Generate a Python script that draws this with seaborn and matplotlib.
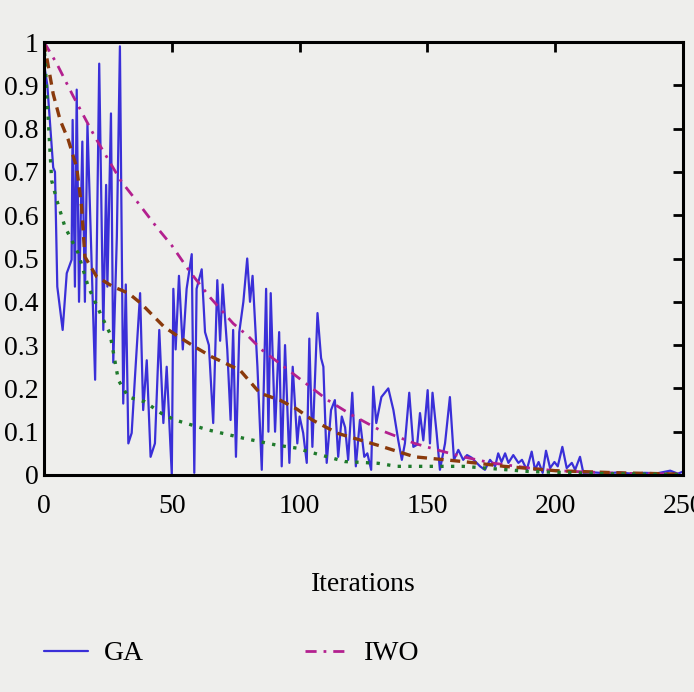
import numpy as np
import pandas as pd
import matplotlib
matplotlib.use("Agg")
import matplotlib.pyplot as plt
import seaborn as sns

# ---- data ----
ga_iter = [0, 1.3, 3.6, 4.3, 5.2, 7.3, 8.9, 10.8, 11.2, 12.1, 12.8, 13.7, 15, 16, 17, 20, 21.6,
           23.2, 24.3, 24.8, 26.2, 27.1, 28.5, 29.7, 31, 32, 33, 34.3, 35.6, 37.6, 38.8, 40.2,
           41.7, 43.4, 45.1, 46.7, 48, 50, 50.6, 51.5, 52.8, 54.3, 55.8, 57.8, 58.8, 59.7, 61.7,
           63, 64.5, 66.2, 67.8, 68.9, 69.9, 71.7, 73, 74, 75.1, 76.4, 78, 79.5, 80.6, 81.6,
           83.5, 85.2, 86.9, 87.8, 88.7, 90.4, 92, 93, 94.3, 96, 97.3, 99.1, 100, 101.4, 102.8,
           103.8, 105, 107, 108.4, 109.3, 110.6, 112.3, 113.8, 115.1, 116.5, 117.8, 119, 120.6,
           122, 123.6, 125.3, 126.5, 128, 128.8, 130, 132, 134.7, 136.7, 138.6, 140, 141.2,
           142.9, 144.5, 146, 147.1, 148.4, 150.1, 151, 152, 153.6, 154.9, 156.9, 158.8, 160.4,
           162.1, 164, 165.5, 167.3, 170.6, 172.5, 174.5, 176.5, 177.7, 179, 180.4, 181.7,
           183.6, 185.6, 187, 188.9, 190.8, 192.1, 193.5, 195.1, 196.4, 198, 199.7, 201, 202.8,
           204.5, 206.5, 207.8, 209.7, 211, 215, 220, 225, 230, 235, 240, 245, 248, 250]
ga_val = [0.95, 0.90, 0.71, 0.70, 0.435, 0.335, 0.466, 0.497, 0.82, 0.435, 0.89, 0.40, 0.77,
          0.40, 0.81, 0.22, 0.95, 0.335, 0.67, 0.435, 0.835, 0.26, 0.55, 0.99, 0.165, 0.44,
          0.073, 0.097, 0.227, 0.42, 0.15, 0.265, 0.042, 0.073, 0.335, 0.12, 0.25, 0.0, 0.43,
          0.29, 0.46, 0.29, 0.43, 0.51, 0.005, 0.43, 0.475, 0.33, 0.30, 0.12, 0.45, 0.31, 0.44,
          0.29, 0.127, 0.335, 0.042, 0.33, 0.40, 0.50, 0.40, 0.46, 0.25, 0.012, 0.43, 0.10,
          0.42, 0.10, 0.33, 0.02, 0.30, 0.028, 0.25, 0.073, 0.135, 0.097, 0.028, 0.315, 0.065,
          0.374, 0.27, 0.25, 0.028, 0.15, 0.173, 0.042, 0.135, 0.11, 0.035, 0.19, 0.02, 0.127,
          0.042, 0.05, 0.012, 0.204, 0.12, 0.18, 0.20, 0.15, 0.08, 0.035, 0.073, 0.19, 0.065,
          0.07, 0.143, 0.08, 0.196, 0.073, 0.19, 0.097, 0.012, 0.073, 0.18, 0.035, 0.058,
          0.035, 0.046, 0.04, 0.02, 0.012, 0.035, 0.02, 0.05, 0.03, 0.05, 0.028, 0.046, 0.028,
          0.035, 0.012, 0.054, 0.012, 0.03, 0.005, 0.056, 0.016, 0.03, 0.02, 0.065, 0.016,
          0.028, 0.012, 0.042, 0.005, 0.006, 0.004, 0.006, 0.003, 0.005, 0.004, 0.01, 0.003,
          0.008]

iwo_iter = [0, 5, 11.5, 20, 30, 37, 44, 50, 57, 65, 74, 80, 85, 99, 111, 120, 131, 145, 155,
            164, 175, 190, 200, 225, 250]
iwo_val = [1.0, 0.95, 0.874, 0.78, 0.68, 0.627, 0.573, 0.53, 0.47, 0.41, 0.35, 0.32, 0.29,
           0.227, 0.173, 0.14, 0.105, 0.073, 0.056, 0.042, 0.028, 0.016, 0.01, 0.004, 0.002]

s3_iter = [0, 3.6, 6.3, 9.5, 12.8, 14.7, 16, 20.6, 27, 33, 38, 47, 52.5, 59, 65.6, 76.7, 84.5,
           92.3, 99, 105, 115, 131, 145, 164, 180, 200, 225, 250]
s3_val = [1.0, 0.88, 0.82, 0.774, 0.71, 0.62, 0.504, 0.458, 0.435, 0.42, 0.396, 0.342, 0.32,
          0.296, 0.273, 0.242, 0.189, 0.173, 0.152, 0.127, 0.096, 0.068, 0.042, 0.031, 0.02,
          0.01, 0.005, 0.002]

s4_iter = [0, 2.1, 3, 5, 8.2, 13.4, 17.3, 22.6, 25.8, 29.1, 33, 39.5, 46, 51.3, 64.3, 78, 91,
           99, 103.4, 117.8, 130.8, 138, 164, 190, 220, 250]
s4_val = [1.0, 0.774, 0.68, 0.635, 0.573, 0.512, 0.435, 0.366, 0.327, 0.219, 0.18, 0.169,
          0.142, 0.127, 0.104, 0.085, 0.069, 0.062, 0.054, 0.031, 0.027, 0.02, 0.02, 0.008,
          0.003, 0.001]

labels = ["GA", "IWO", "PSO", "ABC"]
colors = ["#3a2fd8", "#b3208f", "#8a3a0c", "#1f7a2c"]
x_ticks = [0, 50, 100, 150, 200, 250]
y_ticks = [0, 0.1, 0.2, 0.3, 0.4, 0.5, 0.6, 0.7, 0.8, 0.9, 1]
y_ticklabels = ["0", "0.1", "0.2", "0.3", "0.4", "0.5", "0.6", "0.7", "0.8", "0.9", "1"]

bg = "#eeeeec"
sns.set_style("white")
plt.rcParams["font.family"] = ["Liberation Serif", "DejaVu Serif"]
plt.rcParams["text.color"] = "black"
plt.rcParams["axes.labelcolor"] = "black"

fig = plt.figure(figsize=(6.94, 6.92), dpi=100, facecolor=bg)
ax = fig.add_axes([44 / 694, 1 - 475 / 692, (683 - 44) / 694, (475 - 42) / 692])
ax.set_facecolor(bg)

sns.lineplot(x=ga_iter, y=ga_val, ax=ax, color=colors[0], lw=1.6, sort=False,
             estimator=None, label=labels[0])
sns.lineplot(x=iwo_iter, y=iwo_val, ax=ax, color=colors[1], lw=2.0, sort=False,
             estimator=None, label=labels[1], linestyle=(0, (4, 2.5, 1, 2.5)))
sns.lineplot(x=s3_iter, y=s3_val, ax=ax, color=colors[2], lw=2.4, sort=False,
             estimator=None, label=labels[2], linestyle=(0, (3, 2)))
sns.lineplot(x=s4_iter, y=s4_val, ax=ax, color=colors[3], lw=2.4, sort=False,
             estimator=None, label=labels[3], linestyle=(0, (1, 2.2)))

ax.set_xlim(0, 250)
ax.set_ylim(0, 1)
ax.set_xticks(x_ticks)
ax.set_xticklabels([str(t) for t in x_ticks])
ax.set_yticks(y_ticks)
ax.set_yticklabels(y_ticklabels)
ax.tick_params(axis="both", direction="in", length=7, width=2, labelsize=20,
               top=True, right=True, colors="black")
ax.tick_params(axis="x", pad=14)
ax.tick_params(axis="y", pad=4)
for sp in ax.spines.values():
    sp.set_linewidth(2.2)
    sp.set_color("black")
ax.set_xlabel("Iterations", fontsize=20, labelpad=38)
ax.set_ylabel("")

handles, labs = ax.get_legend_handles_labels()
ax.get_legend().remove()
# column-major fill: column 1 = GA, PSO ; column 2 = IWO, ABC
order = [0, 2, 1, 3]
fig.legend([handles[i] for i in order], [labs[i] for i in order], loc="upper left",
           bbox_to_anchor=(44 / 694, 1 - 641 / 692),
           ncol=2, frameon=False, fontsize=20, handlelength=1.6, handletextpad=0.55,
           columnspacing=5.4, borderpad=0, borderaxespad=0, labelspacing=1.0)

fig.savefig("out.png", dpi=100, facecolor=bg)
